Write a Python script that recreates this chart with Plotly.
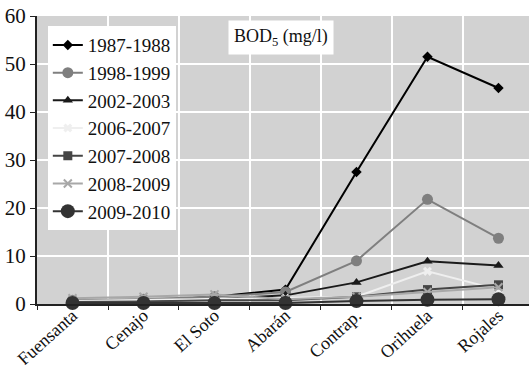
import plotly.graph_objects as go

sites = ["Fuensanta", "Cenajo", "El Soto", "Abarán", "Contrap.", "Orihuela", "Rojales"]
s1987 = [0.5, 0.7, 1.5, 3.0, 27.5, 51.5, 45.0]
s1998 = [0.8, 1.0, 1.5, 2.5, 9.0, 21.8, 13.7]
s2002 = [0.5, 0.6, 1.0, 1.8, 4.5, 8.9, 8.0]
s2006 = [0.6, 0.8, 1.0, 1.2, 1.5, 6.8, 3.0]
s2007 = [0.4, 0.5, 0.8, 0.8, 1.5, 3.0, 4.0]
s2008 = [1.2, 1.5, 2.0, 1.0, 1.5, 2.5, 3.5]
s2009 = [0.2, 0.2, 0.2, 0.2, 0.6, 0.9, 1.0]

series = [
    ("1987-1988", s1987, "#000000", "diamond", 8),
    ("1998-1999", s1998, "#7f7f7f", "circle", 11),
    ("2002-2003", s2002, "#1a1a1a", "triangle-up", 9),
    ("2006-2007", s2006, "#efefef", "x", 8),
    ("2007-2008", s2007, "#454545", "square", 9),
    ("2008-2009", s2008, "#a8a8a8", "x-thin-open", 8),
    ("2009-2010", s2009, "#333333", "circle", 14),
]

fig = go.Figure()
for name, vals, col, sym, sz in series:
    mk = dict(symbol=sym, size=sz, color=col)
    if sym == "x-thin-open":
        mk["line"] = dict(color=col, width=2)
    fig.add_trace(go.Scatter(x=sites, y=vals, name=name, mode="lines+markers",
                             line=dict(color=col, width=2), marker=mk,
                             cliponaxis=False))

fig.update_layout(
    width=529, height=365,
    margin=dict(l=37, r=0, t=16, b=61),
    paper_bgcolor="white", plot_bgcolor="#d2d2d2",
    font=dict(family="Liberation Serif", size=18, color="#111"),
    showlegend=True,
    legend=dict(x=0.022, y=0.965, xanchor="left", yanchor="top",
                bgcolor="white", font=dict(size=19), tracegroupgap=0,
                itemwidth=30),
    annotations=[dict(text="BOD<sub>5</sub> (mg/l)", x=0.495, y=0.925,
                      xref="paper", yref="paper", xanchor="center", yanchor="middle",
                      showarrow=False,
                      bgcolor="white", font=dict(size=18), borderpad=5)],
)
fig.update_xaxes(type="category", range=[-0.5, 6.43], tickson="boundaries",
                 automargin=False,
                 showgrid=True, gridcolor="white", gridwidth=2,
                 ticks="outside", ticklen=4, tickcolor="#222",
                 showline=True, linecolor="#222", linewidth=2,
                 tickangle=-42, tickfont=dict(size=18), ticklabelstandoff=-8)
fig.update_yaxes(range=[0, 60], dtick=10, showgrid=True, gridcolor="white",
                 automargin=False,
                 gridwidth=2, ticks="outside", ticklen=5, tickcolor="#222",
                 showline=True, linecolor="#222", linewidth=2, zeroline=False,
                 tickfont=dict(size=21))

fig.write_html("out.html", config={"responsive": False, "displayModeBar": False},
               post_script="document.body.style.margin='0';document.body.style.overflow='hidden';")
